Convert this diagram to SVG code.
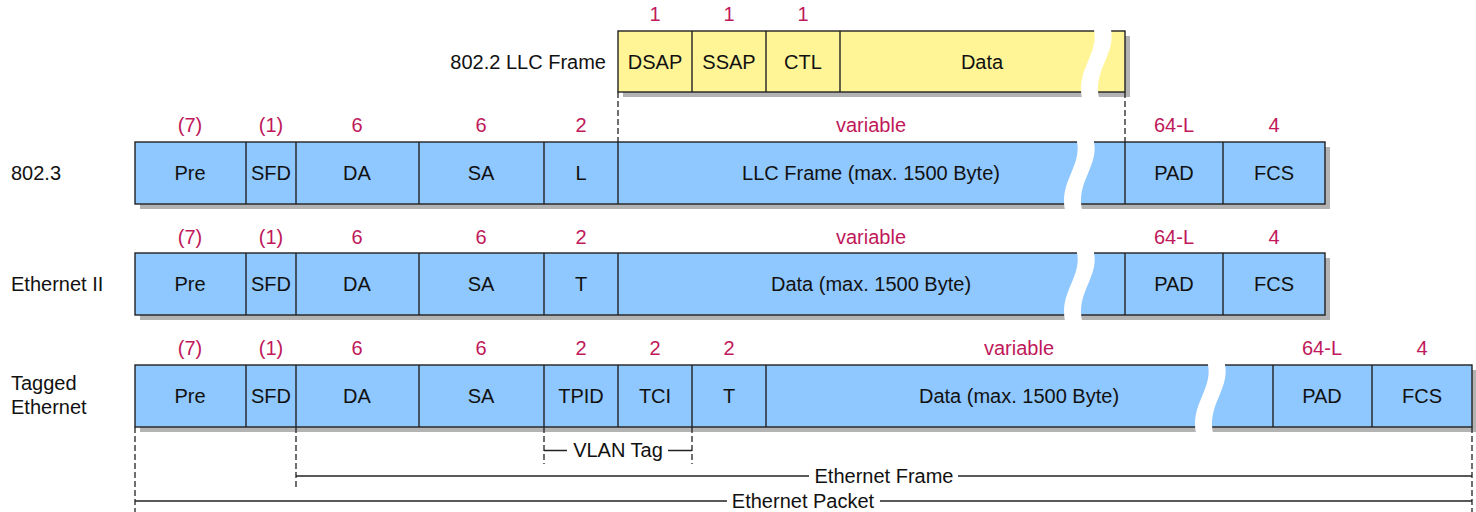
<svg xmlns="http://www.w3.org/2000/svg" xmlns:xlink="http://www.w3.org/1999/xlink" width="1476" height="512" viewBox="0 0 1476 512">
<style>
text{font-family:"Liberation Sans",Arial,sans-serif;font-size:20px;fill:#111}
.c{text-anchor:middle}
.n{fill:#c0185a;text-anchor:middle}
.shadow{fill:#b3b3b3}
.blue{fill:#8fc7ff;stroke:#222;stroke-width:1.4}
.yel{fill:#fff596;stroke:#222;stroke-width:1.4}
.div{stroke:#222;stroke-width:1.4}
.dash{stroke:#222;stroke-width:1.3;stroke-dasharray:6 3;fill:none}
.dim{stroke:#222;stroke-width:1.5;fill:none}
.brk{fill:#fff}
</style>
<defs>
<path id="brk" d="M -8.5 0 C 1.5 29 -26.5 44 -18.5 76 L -1.5 76 C -9.5 44 18.5 29 8.5 0 Z"/>
</defs>
<rect width="1476" height="512" fill="#fff"/>

<g id="llc-frame">
<rect class="shadow" x="623" y="36" width="507" height="61"/>
<rect class="yel" x="618" y="31" width="507" height="61"/>
<line class="div" x1="692" y1="31" x2="692" y2="92"/>
<line class="div" x1="766" y1="31" x2="766" y2="92"/>
<line class="div" x1="840" y1="31" x2="840" y2="92"/>
<use href="#brk" class="brk" x="1101" y="24"/>
<text x="606" y="69" text-anchor="end">802.2 LLC Frame</text>
<text class="n" x="655" y="21">1</text>
<text class="n" x="729" y="21">1</text>
<text class="n" x="803" y="21">1</text>
<text class="c" x="655" y="69">DSAP</text>
<text class="c" x="729" y="69">SSAP</text>
<text class="c" x="803" y="69">CTL</text>
<text class="c" x="982" y="69">Data</text>
</g>

<g id="row-8023">
<text x="11" y="180">802.3</text>
<rect class="shadow" x="140" y="147" width="1190" height="62"/>
<rect class="blue" x="135" y="142" width="1190" height="62"/>
<line class="div" x1="246" y1="142" x2="246" y2="204"/>
<line class="div" x1="296" y1="142" x2="296" y2="204"/>
<line class="div" x1="419" y1="142" x2="419" y2="204"/>
<line class="div" x1="544" y1="142" x2="544" y2="204"/>
<line class="div" x1="618" y1="142" x2="618" y2="204"/>
<line class="div" x1="1125" y1="142" x2="1125" y2="204"/>
<line class="div" x1="1223" y1="142" x2="1223" y2="204"/>
<use href="#brk" class="brk" x="1084" y="136"/>
<text class="n" x="190" y="132">(7)</text>
<text class="n" x="271" y="132">(1)</text>
<text class="n" x="357" y="132">6</text>
<text class="n" x="481" y="132">6</text>
<text class="n" x="581" y="132">2</text>
<text class="n" x="871" y="132">variable</text>
<text class="n" x="1174" y="132">64-L</text>
<text class="n" x="1274" y="132">4</text>
<text class="c" x="190" y="180">Pre</text>
<text class="c" x="271" y="180">SFD</text>
<text class="c" x="357" y="180">DA</text>
<text class="c" x="481" y="180">SA</text>
<text class="c" x="581" y="180">L</text>
<text class="c" x="871" y="180">LLC Frame (max. 1500 Byte)</text>
<text class="c" x="1174" y="180">PAD</text>
<text class="c" x="1274" y="180">FCS</text>
</g>

<g id="row-ethernet2">
<text x="11" y="291">Ethernet II</text>
<rect class="shadow" x="140" y="258" width="1190" height="62"/>
<rect class="blue" x="135" y="253" width="1190" height="62"/>
<line class="div" x1="246" y1="253" x2="246" y2="315"/>
<line class="div" x1="296" y1="253" x2="296" y2="315"/>
<line class="div" x1="419" y1="253" x2="419" y2="315"/>
<line class="div" x1="544" y1="253" x2="544" y2="315"/>
<line class="div" x1="618" y1="253" x2="618" y2="315"/>
<line class="div" x1="1125" y1="253" x2="1125" y2="315"/>
<line class="div" x1="1223" y1="253" x2="1223" y2="315"/>
<use href="#brk" class="brk" x="1084" y="247"/>
<text class="n" x="190" y="244">(7)</text>
<text class="n" x="271" y="244">(1)</text>
<text class="n" x="357" y="244">6</text>
<text class="n" x="481" y="244">6</text>
<text class="n" x="581" y="244">2</text>
<text class="n" x="871" y="244">variable</text>
<text class="n" x="1174" y="244">64-L</text>
<text class="n" x="1274" y="244">4</text>
<text class="c" x="190" y="291">Pre</text>
<text class="c" x="271" y="291">SFD</text>
<text class="c" x="357" y="291">DA</text>
<text class="c" x="481" y="291">SA</text>
<text class="c" x="581" y="291">T</text>
<text class="c" x="871" y="291">Data (max. 1500 Byte)</text>
<text class="c" x="1174" y="291">PAD</text>
<text class="c" x="1274" y="291">FCS</text>
</g>

<g id="row-tagged">
<text x="11" y="390">Tagged</text>
<text x="11" y="414">Ethernet</text>
<rect class="shadow" x="140" y="370" width="1337" height="62"/>
<rect class="blue" x="135" y="365" width="1337" height="62"/>
<line class="div" x1="246" y1="365" x2="246" y2="427"/>
<line class="div" x1="296" y1="365" x2="296" y2="427"/>
<line class="div" x1="419" y1="365" x2="419" y2="427"/>
<line class="div" x1="544" y1="365" x2="544" y2="427"/>
<line class="div" x1="618" y1="365" x2="618" y2="427"/>
<line class="div" x1="692" y1="365" x2="692" y2="427"/>
<line class="div" x1="766" y1="365" x2="766" y2="427"/>
<line class="div" x1="1273" y1="365" x2="1273" y2="427"/>
<line class="div" x1="1372" y1="365" x2="1372" y2="427"/>
<use href="#brk" class="brk" x="1215" y="359"/>
<text class="n" x="190" y="355">(7)</text>
<text class="n" x="271" y="355">(1)</text>
<text class="n" x="357" y="355">6</text>
<text class="n" x="481" y="355">6</text>
<text class="n" x="581" y="355">2</text>
<text class="n" x="655" y="355">2</text>
<text class="n" x="729" y="355">2</text>
<text class="n" x="1019" y="355">variable</text>
<text class="n" x="1322" y="355">64-L</text>
<text class="n" x="1422" y="355">4</text>
<text class="c" x="190" y="403">Pre</text>
<text class="c" x="271" y="403">SFD</text>
<text class="c" x="357" y="403">DA</text>
<text class="c" x="481" y="403">SA</text>
<text class="c" x="581" y="403">TPID</text>
<text class="c" x="655" y="403">TCI</text>
<text class="c" x="729" y="403">T</text>
<text class="c" x="1019" y="403">Data (max. 1500 Byte)</text>
<text class="c" x="1322" y="403">PAD</text>
<text class="c" x="1422" y="403">FCS</text>
</g>

<g id="connectors">
<line class="dash" x1="618" y1="92" x2="618" y2="142"/>
<line class="dash" x1="1125" y1="92" x2="1125" y2="142"/>
<line class="dash" x1="135" y1="427" x2="135" y2="512"/>
<line class="dash" x1="296" y1="427" x2="296" y2="489"/>
<line class="dash" x1="544" y1="427" x2="544" y2="464"/>
<line class="dash" x1="692" y1="427" x2="692" y2="464"/>
<line class="dash" x1="1472" y1="427" x2="1472" y2="512"/>
<line class="dim" x1="544" y1="450.5" x2="567" y2="450.5"/>
<line class="dim" x1="668" y1="450.5" x2="692" y2="450.5"/>
<text class="c" x="618" y="457">VLAN Tag</text>
<line class="dim" x1="296" y1="476" x2="809" y2="476"/>
<line class="dim" x1="958" y1="476" x2="1472" y2="476"/>
<text class="c" x="884" y="483">Ethernet Frame</text>
<line class="dim" x1="135" y1="501" x2="727" y2="501"/>
<line class="dim" x1="880" y1="501" x2="1472" y2="501"/>
<text class="c" x="803" y="508">Ethernet Packet</text>
</g>
</svg>
